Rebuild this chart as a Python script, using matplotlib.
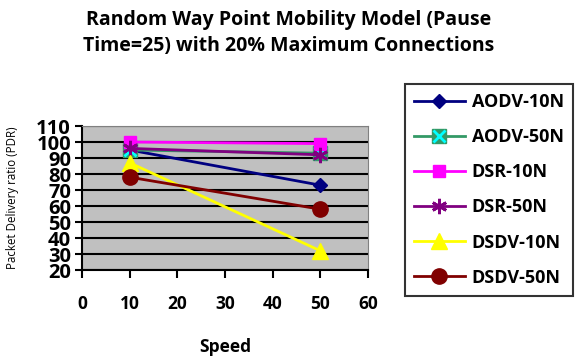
import matplotlib
matplotlib.use("Agg")
import matplotlib.pyplot as plt
from matplotlib import font_manager

plt.rcParams['font.family'] = ['Open Sans', 'DejaVu Sans']
names = {f.name for f in font_manager.fontManager.ttflist}
narrow = 'Liberation Sans Narrow' if 'Liberation Sans Narrow' in names else 'Open Sans'

speed = [10, 50]
aodv_10n = [95, 73]
aodv_50n = [95, 93]
dsr_10n = [100, 99]
dsr_50n = [96, 92]
dsdv_10n = [87, 32]
dsdv_50n = [78, 58]
x_ticks = [0, 10, 20, 30, 40, 50, 60]
y_ticks = [20, 30, 40, 50, 60, 70, 80, 90, 100, 110]

fig = plt.figure(figsize=(5.76, 3.58), dpi=100)
ax = fig.add_axes([82/576, 1 - 270/358, (368-82)/576, (270-126)/358])
ax.set_facecolor('#c0c0c0')

l1, = ax.plot(speed, aodv_10n, color='#000080', marker='D', markersize=7, lw=2)
# teal square with a cyan cross on top
l2, = ax.plot(speed, aodv_50n, color='#339966', marker='s', markersize=10, lw=2)
l2x, = ax.plot(speed, aodv_50n, ls='none', marker='x', markersize=8, mew=2, color='#00ffff')
l3, = ax.plot(speed, dsr_10n, color='#ff00ff', marker='s', markersize=9, lw=2)
l4, = ax.plot(speed, dsr_50n, color='#800080', marker=(6, 2, 0), markersize=11, mew=2, lw=2)
l5, = ax.plot(speed, dsdv_10n, color='#ffff00', marker='^', markersize=11, lw=2)
l6, = ax.plot(speed, dsdv_50n, color='#800000', marker='o', markersize=11, lw=2)

ax.set_xlim(0, 60)
ax.set_ylim(20, 110)
ax.set_xticks(x_ticks)
ax.set_yticks(y_ticks)
ax.yaxis.grid(True, color='black', lw=1.5)
ax.set_axisbelow(True)
for s in ['top', 'right']:
    ax.spines[s].set_color('#808080')
ax.spines['left'].set_linewidth(1.5)
ax.spines['bottom'].set_linewidth(1.5)
ax.tick_params(axis='x', direction='out', length=6, width=1.5, pad=12, labelsize=12.5)
ax.tick_params(axis='y', direction='out', length=5, width=1.5, pad=3, labelsize=14.5)
for t in ax.get_xticklabels():
    t.set_fontweight('bold')
for t in ax.get_yticklabels():
    t.set_fontweight('bold')
    t.set_family(narrow)

ax.set_xlabel('Speed', fontsize=12.5, fontweight='bold', labelpad=18)
fig.text(13/576, 1 - 198/358, 'Packet Delivery ratio (PDR)', rotation=90,
         fontsize=8.3, ha='center', va='center')

fig.text(289/576, 1 - 33/358,
         'Random Way Point Mobility Model (Pause\nTime=25) with 20% Maximum Connections',
         fontsize=14, fontweight='bold', ha='center', va='center', linespacing=1.4)

handles = [l1, (l2, l2x), l3, l4, l5, l6]
labels = ['AODV-10N', 'AODV-50N', 'DSR-10N', 'DSR-50N', 'DSDV-10N', 'DSDV-50N']
leg = fig.legend(handles, labels, loc='upper left', bbox_to_anchor=(405/576, 1 - 84/358),
                 frameon=True, fancybox=False, edgecolor='black',
                 prop={'weight': 'bold', 'size': 13}, labelspacing=0.95,
                 handlelength=2.8, handletextpad=0.4, borderpad=0.5, borderaxespad=0)
leg.get_frame().set_linewidth(1.5)

fig.savefig('out.png', dpi=100)
